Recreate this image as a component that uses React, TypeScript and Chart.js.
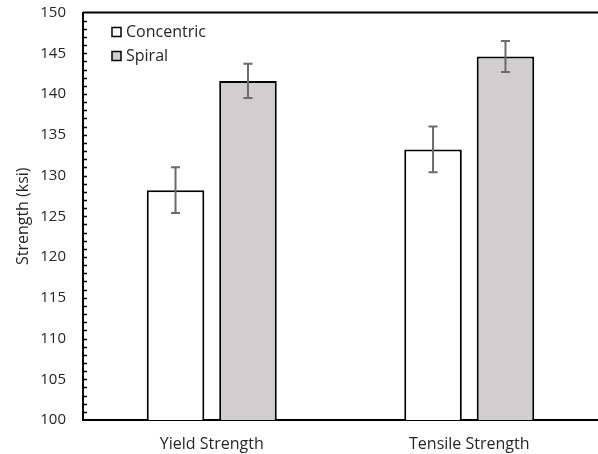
import React, { useEffect, useRef } from "react";
import { Chart, registerables } from "chart.js";

Chart.register(...registerables);

const categories = ["Yield Strength", "Tensile Strength"];
const seriesNames = ["Concentric", "Spiral"];
const concentricValues = [128.2, 133.2];
const spiralValues = [141.6, 144.6];
const concentricErrors = [2.8, 2.8];
const spiralErrors = [2.1, 1.9];
const yMin = 100;
const yMax = 150;
const yStep = 5;

const FONT = "'Open Sans', sans-serif";
const TEXT = "#262626";

const errorBarPlugin = {
  id: "errorBars",
  afterDatasetsDraw(chart: any) {
    const ctx = chart.ctx;
    const yScale = chart.scales.y;
    chart.data.datasets.forEach((ds: any, di: number) => {
      const meta = chart.getDatasetMeta(di);
      const errs: number[] = ds.errors || [];
      meta.data.forEach((bar: any, i: number) => {
        const v = ds.data[i];
        const e = errs[i];
        if (e == null) return;
        const x = bar.x;
        const yTop = yScale.getPixelForValue(v + e);
        const yBot = yScale.getPixelForValue(v - e);
        ctx.save();
        ctx.strokeStyle = "#6b6b6b";
        ctx.lineWidth = 2;
        ctx.beginPath();
        ctx.moveTo(x, yTop);
        ctx.lineTo(x, yBot);
        ctx.moveTo(x - 4.5, yTop);
        ctx.lineTo(x + 4.5, yTop);
        ctx.moveTo(x - 4.5, yBot);
        ctx.lineTo(x + 4.5, yBot);
        ctx.stroke();
        ctx.restore();
      });
    });
  },
};

const framePlugin = {
  id: "frame",
  afterDraw(chart: any) {
    const ctx = chart.ctx;
    const area = chart.chartArea;
    const yScale = chart.scales.y;
    ctx.save();
    ctx.strokeStyle = "#000";
    ctx.lineWidth = 2;
    ctx.beginPath();
    ctx.moveTo(area.left, area.top);
    ctx.lineTo(chart.width, area.top);
    ctx.stroke();
    ctx.lineWidth = 1.5;
    ctx.beginPath();
    for (let v = yMin + 1; v < yMax; v++) {
      const y = Math.round(yScale.getPixelForValue(v)) + 0.5;
      ctx.moveTo(area.left, y);
      ctx.lineTo(area.left + 4, y);
    }
    ctx.stroke();
    const lx = area.left + 29;
    chart.data.datasets.forEach((ds: any, i: number) => {
      const cy = area.top + 19.5 + i * 24;
      ctx.fillStyle = ds.backgroundColor;
      ctx.fillRect(lx, cy - 4.5, 9, 9);
      ctx.strokeStyle = "#000";
      ctx.lineWidth = 1.5;
      ctx.strokeRect(lx, cy - 4.5, 9, 9);
      ctx.fillStyle = TEXT;
      ctx.font = `16px ${FONT}`;
      ctx.textBaseline = "middle";
      ctx.textAlign = "left";
      ctx.fillText(ds.label, lx + 14, cy);
    });
    ctx.restore();
  },
};

export default function App() {
  const ref = useRef<HTMLCanvasElement | null>(null);
  useEffect(() => {
    if (!ref.current) return;
    const chart = new Chart(ref.current, {
      type: "bar",
      data: {
        labels: categories,
        datasets: [
          {
            label: seriesNames[0],
            data: concentricValues,
            errors: concentricErrors,
            backgroundColor: "#ffffff",
            borderColor: "#000000",
            borderWidth: 2,
            borderSkipped: "bottom",
          } as any,
          {
            label: seriesNames[1],
            data: spiralValues,
            errors: spiralErrors,
            backgroundColor: "#d0cece",
            borderColor: "#000000",
            borderWidth: 2,
            borderSkipped: "bottom",
          } as any,
        ],
      },
      options: {
        animation: false,
        responsive: false,
        maintainAspectRatio: false,
        layout: { padding: { top: 12.5, right: -4, left: 0, bottom: 0 } },
        datasets: {
          bar: { categoryPercentage: 0.5626, barPercentage: 0.7945 },
        },
        plugins: {
          legend: { display: false },
          tooltip: { enabled: false },
        },
        scales: {
          x: {
            grid: { display: false },
            border: { display: true, color: "#000", width: 2 },
            ticks: {
              color: TEXT,
              font: { family: FONT, size: 16 },
              padding: 7,
            },
            afterFit(scale: any) {
              scale.height = 34;
              scale.paddingLeft = 0;
              scale.paddingRight = 0;
            },
          },
          y: {
            min: yMin,
            max: yMax,
            grid: { display: false },
            border: { display: true, color: "#000", width: 2 },
            ticks: {
              stepSize: yStep,
              color: TEXT,
              font: { family: FONT, size: 15 },
              padding: 9,
            },
            title: {
              display: true,
              text: "Strength (ksi)",
              color: TEXT,
              font: { family: FONT, size: 16 },
              padding: { top: 14, bottom: 0 },
            },
            afterFit(scale: any) {
              scale.width = 83;
              scale.paddingTop = 0;
              scale.paddingBottom = 0;
            },
          },
        },
      },
      plugins: [errorBarPlugin, framePlugin],
    });
    return () => chart.destroy();
  }, []);
  return (
    <div style={{ position: "fixed", left: 0, top: 0, width: 598, height: 454, background: "#fff" }}>
      <canvas ref={ref} width={598} height={454} style={{ width: 598, height: 454 }} />
    </div>
  );
}
